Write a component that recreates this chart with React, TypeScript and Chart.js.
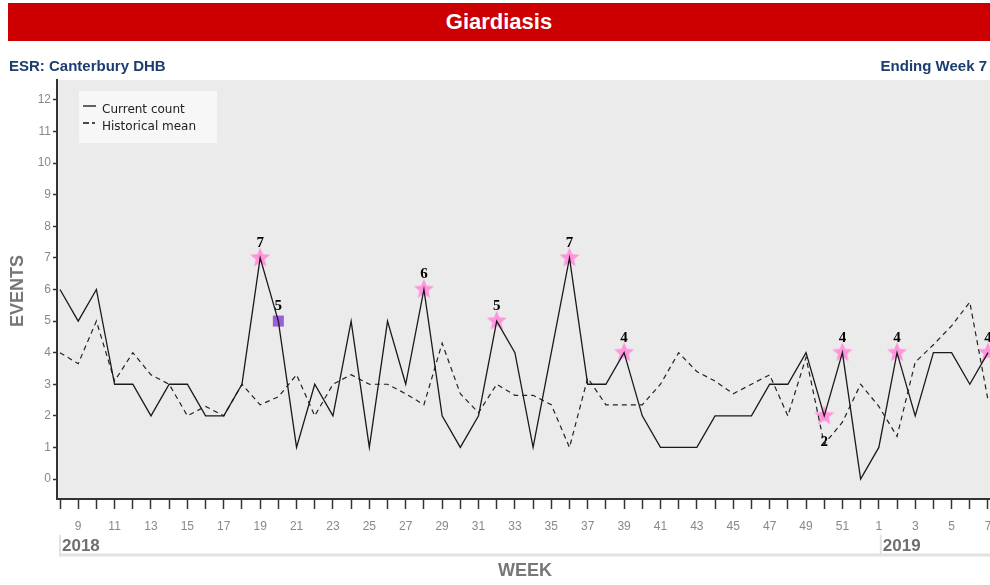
import React, { useEffect, useRef } from "react";
import { Chart, registerables } from "chart.js";
Chart.register(...registerables);

const weeks = [8, 9, 10, 11, 12, 13, 14, 15, 16, 17, 18, 19, 20, 21, 22, 23, 24, 25, 26, 27, 28, 29, 30, 31, 32, 33, 34, 35, 36, 37, 38, 39, 40, 41, 42, 43, 44, 45, 46, 47, 48, 49, 50, 51, 52, 1, 2, 3, 4, 5, 6, 7];
const currentCount = [6, 5, 6, 3, 3, 2, 3, 3, 2, 2, 3, 7, 5, 1, 3, 2, 5, 1, 5, 3, 6, 2, 1, 2, 5, 4, 1, 4, 7, 3, 3, 4, 2, 1, 1, 1, 2, 2, 2, 3, 3, 4, 2, 4, 0, 1, 4, 2, 4, 4, 3, 4];
const historicalMean = [4.0, 3.65, 5.0, 3.1, 4.0, 3.3, 3.0, 2.0, 2.3, 2.0, 3.0, 2.35, 2.6, 3.3, 2.0, 3.0, 3.3, 3.0, 3.0, 2.7, 2.35, 4.3, 2.7, 2.1, 3.0, 2.65, 2.65, 2.35, 1.0, 3.2, 2.35, 2.35, 2.35, 3.0, 4.0, 3.4, 3.1, 2.7, 3.0, 3.3, 2.0, 3.85, 1.1, 1.8, 3.0, 2.3, 1.35, 3.7, 4.25, 4.85, 5.6, 2.5];
const starIdx = [11, 20, 24, 28, 31, 42, 43, 46, 51];
const squareIdx = [12];
const labelBelowIdx = [42];
const yTickValues = [0, 1, 2, 3, 4, 5, 6, 7, 8, 9, 10, 11, 12];
const yearLabels = ["2018", "2019"];
const yearStartIdx = [0, 45];
const titleText = "Giardiasis";
const leftSubtitle = "ESR: Canterbury DHB";
const rightSubtitle = "Ending Week 7";
const seriesNames = ["Current count", "Historical mean"];

function makeStar(): HTMLCanvasElement {
  const c = document.createElement("canvas");
  c.width = 24;
  c.height = 24;
  const ctx = c.getContext("2d")!;
  const cx = 12, cy = 12, ro = 10.5, ri = 4.6;
  ctx.beginPath();
  for (let k = 0; k < 10; k++) {
    const r = k % 2 === 0 ? ro : ri;
    const a = -Math.PI / 2 + (k * Math.PI) / 5;
    const px = cx + r * Math.cos(a);
    const py = cy + r * Math.sin(a);
    if (k === 0) ctx.moveTo(px, py);
    else ctx.lineTo(px, py);
  }
  ctx.closePath();
  ctx.fillStyle = "#ff94dc";
  ctx.fill();
  return c;
}

export default function App() {
  const ref = useRef<HTMLCanvasElement | null>(null);

  useEffect(() => {
    const canvas = ref.current;
    if (!canvas) return;
    const star = makeStar();

    const decor = {
      id: "decor",
      beforeDraw(chart: any) {
        const { ctx, chartArea } = chart;
        ctx.save();
        ctx.fillStyle = "#ebebeb";
        ctx.fillRect(chartArea.left, chartArea.top, chartArea.right - chartArea.left, chartArea.bottom - chartArea.top);
        ctx.restore();
      },
      afterDatasetsDraw(chart: any) {
        const { ctx } = chart;
        const xs = chart.scales.x;
        const ys = chart.scales.y;
        ctx.save();
        ctx.font = 'bold 15px "Liberation Serif"';
        ctx.fillStyle = "#000";
        ctx.textAlign = "center";
        ctx.textBaseline = "middle";
        [...starIdx, ...squareIdx].forEach((i) => {
          const px = xs.getPixelForValue(i);
          const py = ys.getPixelForValue(currentCount[i]);
          const below = labelBelowIdx.includes(i);
          ctx.fillText(String(currentCount[i]), px, below ? py + 26 : py - 15);
        });
        ctx.restore();
      },
      afterDraw(chart: any) {
        const { ctx, chartArea } = chart;
        const xs = chart.scales.x;
        ctx.save();
        // legend
        ctx.fillStyle = "#f7f7f7";
        ctx.fillRect(79, 91, 138, 52);
        ctx.strokeStyle = "#111";
        ctx.lineWidth = 1.3;
        ctx.beginPath();
        ctx.moveTo(83, 106);
        ctx.lineTo(96, 106);
        ctx.stroke();
        ctx.beginPath();
        ctx.moveTo(83, 123);
        ctx.lineTo(89, 123);
        ctx.moveTo(92, 123);
        ctx.lineTo(95, 123);
        ctx.stroke();
        ctx.fillStyle = "#222";
        ctx.font = '12px "DejaVu Sans"';
        ctx.textAlign = "left";
        ctx.textBaseline = "middle";
        ctx.fillText(seriesNames[0], 102, 110);
        ctx.fillText(seriesNames[1], 102, 127);

        // axis titles
        ctx.fillStyle = "#777";
        ctx.font = 'bold 18px "Liberation Sans"';
        ctx.textAlign = "center";
        ctx.textBaseline = "middle";
        ctx.fillText("WEEK", 525, 571);
        ctx.save();
        ctx.translate(18, 291);
        ctx.rotate(-Math.PI / 2);
        ctx.fillText("EVENTS", 0, 0);
        ctx.restore();

        // year row
        ctx.strokeStyle = "#e2e2e2";
        ctx.lineWidth = 3;
        ctx.beginPath();
        ctx.moveTo(chartArea.left + 2, 555);
        ctx.lineTo(990, 555);
        ctx.stroke();
        ctx.lineWidth = 2;
        yearStartIdx.forEach((idx, k) => {
          const sx = k === 0 ? chartArea.left + 3 : xs.getPixelForValue(idx) + 2;
          ctx.beginPath();
          ctx.moveTo(sx, 535);
          ctx.lineTo(sx, 556);
          ctx.stroke();
        });
        ctx.fillStyle = "#6f6f6f";
        ctx.font = 'bold 17px "Liberation Sans"';
        ctx.textAlign = "left";
        yearStartIdx.forEach((idx, k) => {
          const sx = k === 0 ? chartArea.left + 3 : xs.getPixelForValue(idx) + 2;
          ctx.fillText(yearLabels[k], sx + 2, 546);
        });
        ctx.restore();
      },
    };

    const chart = new Chart(canvas, {
      type: "line",
      data: {
        datasets: [
          {
            label: seriesNames[0],
            data: currentCount.map((v, i) => ({ x: i, y: v })),
            borderColor: "#1a1a1a",
            borderWidth: 1.3,
            pointRadius: 0,
            tension: 0,
            fill: false,
          },
          {
            label: seriesNames[1],
            data: historicalMean.map((v, i) => ({ x: i, y: v })),
            borderColor: "#222",
            borderWidth: 1.2,
            borderDash: [5, 4],
            pointRadius: 0,
            tension: 0,
            fill: false,
          },
          {
            label: "flag",
            data: starIdx.map((i) => ({ x: i, y: currentCount[i] })),
            showLine: false,
            pointStyle: star as any,
            pointRadius: 11,
            clip: false as any,
          },
          {
            label: "square",
            data: squareIdx.map((i) => ({ x: i, y: currentCount[i] })),
            showLine: false,
            pointStyle: "rect",
            pointRadius: 7.8,
            pointBackgroundColor: "#9a5fd8",
            pointBorderWidth: 0,
            borderWidth: 0,
          },
        ],
      },
      options: {
        responsive: false,
        animation: false,
        devicePixelRatio: 1,
        layout: { autoPadding: false, padding: { top: 80, left: 0, right: 0, bottom: 0 } },
        plugins: { legend: { display: false }, tooltip: { enabled: false }, title: { display: false } },
        scales: {
          x: {
            type: "linear",
            min: -0.165,
            max: 51.11,
            afterBuildTicks(scale: any) {
              scale.ticks = weeks.map((_, i) => ({ value: i }));
            },
            afterFit(scale: any) {
              scale.height = 86;
              scale.paddingLeft = 0;
              scale.paddingRight = 0;
            },
            ticks: {
              autoSkip: false,
              maxRotation: 0,
              minRotation: 0,
              padding: 10,
              color: "#888",
              font: { family: "Liberation Sans", size: 12 },
              callback: (value: any) => {
                const i = Math.round(Number(value));
                return i % 2 === 1 ? String(weeks[i]) : "";
              },
            },
            grid: { drawOnChartArea: false, drawTicks: true, tickLength: 10, tickColor: "#333", tickWidth: 1.5 },
            border: { color: "#333", width: 2 },
          },
          y: {
            type: "linear",
            min: -0.633,
            max: 12.633,
            afterBuildTicks(scale: any) {
              scale.ticks = yTickValues.map((v) => ({ value: v }));
            },
            afterFit(scale: any) {
              scale.width = 57;
              scale.paddingTop = 0;
              scale.paddingBottom = 0;
            },
            ticks: {
              padding: 2,
              color: "#888",
              font: { family: "Liberation Sans", size: 12 },
              callback: (value: any) => String(value),
            },
            grid: { drawOnChartArea: false, drawTicks: true, tickLength: 4, tickColor: "#333", tickWidth: 1.5 },
            border: { color: "#333", width: 2 },
          },
        },
      },
      plugins: [decor],
    } as any);
    return () => chart.destroy();
  }, []);

  return (
    <div style={{ position: "fixed", left: 0, top: 0, width: 990, height: 585, overflow: "hidden", background: "#fff" }}>
      <canvas ref={ref} width={990} height={585} style={{ position: "absolute", left: 0, top: 0, width: 990, height: 585 }} />
      <div
        style={{
          position: "absolute",
          left: 8,
          top: 3,
          width: 982,
          height: 38,
          background: "#cc0000",
          color: "#fff",
          fontFamily: '"Liberation Sans", Arial, sans-serif',
          fontWeight: "bold",
          fontSize: 22,
          lineHeight: "38px",
          textAlign: "center",
        }}
      >
        {titleText}
      </div>
      <div
        style={{
          position: "absolute",
          left: 9,
          top: 57,
          fontFamily: '"Liberation Sans", Arial, sans-serif',
          fontWeight: "bold",
          fontSize: 15,
          lineHeight: "18px",
          color: "#1b3d6f",
        }}
      >
        {leftSubtitle}
      </div>
      <div
        style={{
          position: "absolute",
          right: 3,
          top: 57,
          fontFamily: '"Liberation Sans", Arial, sans-serif',
          fontWeight: "bold",
          fontSize: 15,
          lineHeight: "18px",
          color: "#1b3d6f",
        }}
      >
        {rightSubtitle}
      </div>
    </div>
  );
}
